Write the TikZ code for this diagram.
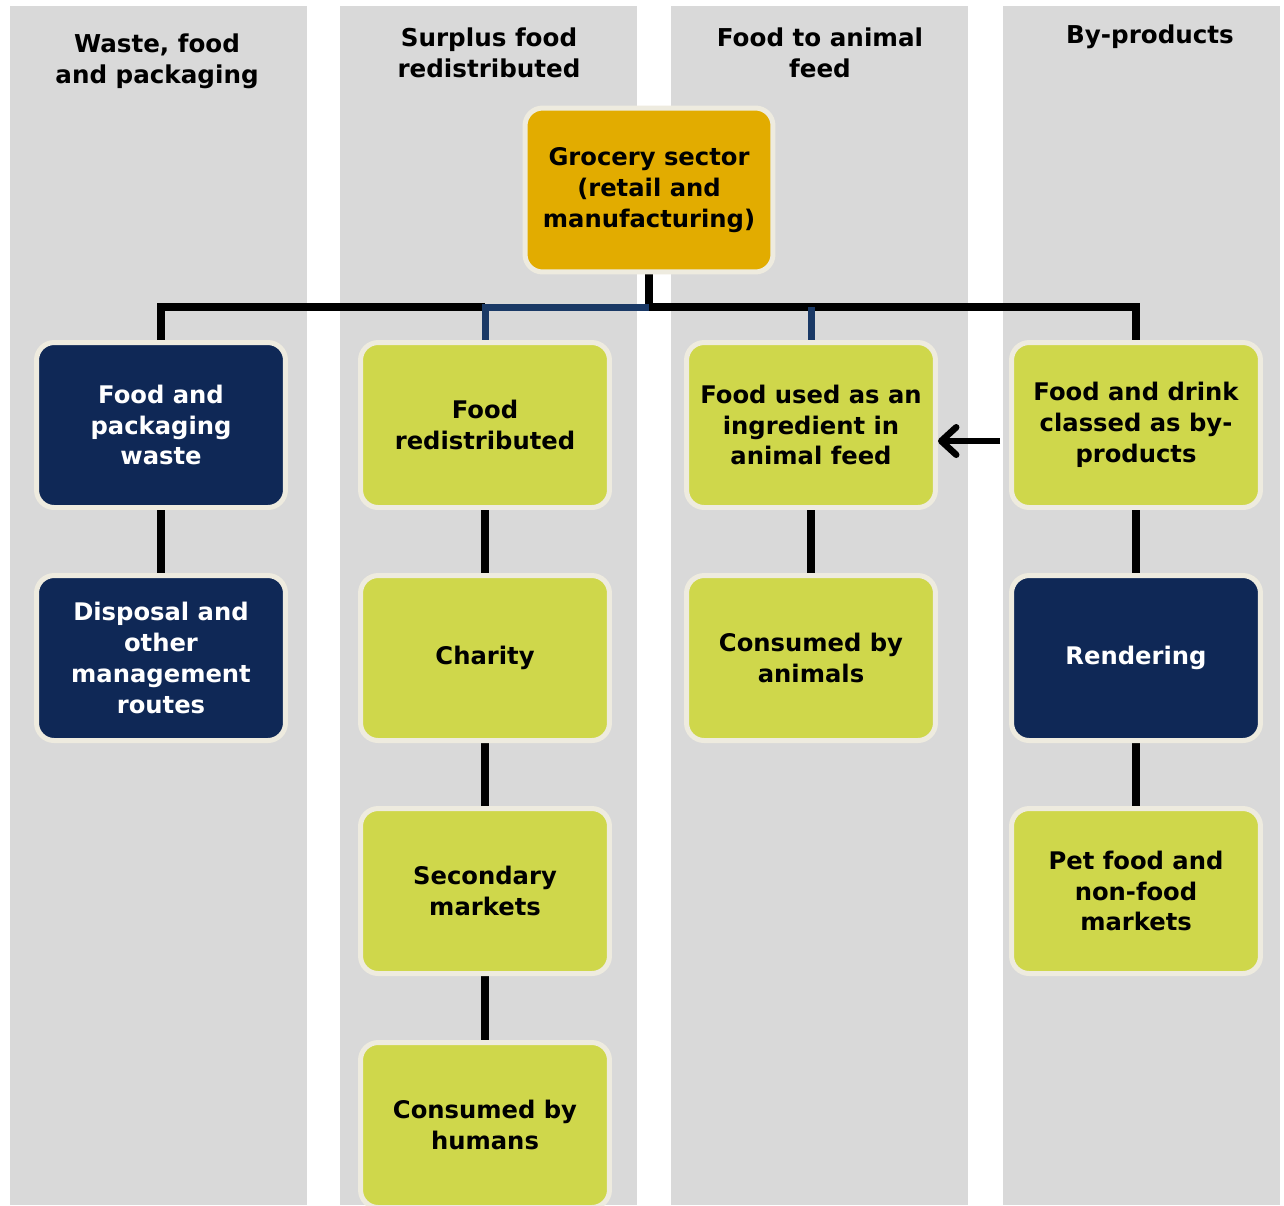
\documentclass[tikz,border=0pt]{standalone}
\usepackage{fontspec}
\setmainfont{DejaVu Sans}
\usetikzlibrary{arrows.meta,backgrounds}

\definecolor{bandgrey}{HTML}{D9D9D9}
\definecolor{navybox}{HTML}{0F2856}
\definecolor{navyline}{HTML}{1A3966}
\definecolor{limebox}{HTML}{CFD74B}
\definecolor{goldbox}{HTML}{E2AC00}
\definecolor{creamrim}{HTML}{EEEBDF}

\tikzset{
    box/.style={rectangle, rounded corners=10pt, draw=creamrim, line width=0.1cm,
        minimum width=4.98cm, minimum height=3.3cm, align=center,
        font=\fontsize{13.8}{17.5}\selectfont\bfseries},
    limebx/.style={box, fill=limebox, text=black},
    navybx/.style={box, fill=navybox, text=white},
    goldbx/.style={box, fill=goldbox, text=black, minimum width=4.96cm, minimum height=3.28cm},
    head/.style={align=center, font=\fontsize{14}{17.5}\selectfont\bfseries},
    link/.style={line width=0.15cm, black},
    navylink/.style={line width=0.14cm, navyline}
}

\begin{document}
\begin{tikzpicture}[x=0.02cm, y=-0.02cm]
            \clip (0,0) rectangle (1284,1205);

            % headers
            \node[head] (h1) at (157,61) {Waste, food\\and packaging};
            \node[head] (h2) at (489,53) {Surplus food\\redistributed};
            \node[head] (h3) at (820,53) {Food to animal\\feed};
            \node[head] (h4) at (1150,37) {By-products};

            % boxes
            \node[goldbx] (groc) at (649,190) {Grocery sector\\(retail and\\manufacturing)};

            \node[navybx] (fpw) at (161,425) {Food and\\packaging\\waste};
            \node[navybx] (disp) at (161,658) {Disposal and\\other\\management\\routes};

            \node[limebx] (fred) at (485,425) {Food\\redistributed};
            \node[limebx] (char) at (485,658) {Charity};
            \node[limebx] (sec) at (485,891) {Secondary\\markets};
            \node[limebx] (hum) at (485,1125) {Consumed by\\humans};

            \node[limebx] (feed) at (811,425) {Food used as an\\ingredient in\\animal feed};
            \node[limebx] (anim) at (811,658) {Consumed by\\animals};

            \node[limebx] (fdb) at (1136,425) {Food and drink\\classed as by-\\products};
            \node[navybx] (rend) at (1136,658) {Rendering};
            \node[limebx] (pet) at (1136,891) {Pet food and\\non-food\\markets};

            \begin{pgfonlayer}{background}
                \fill[white] (0,0) rectangle (1284,1205);
                \fill[bandgrey] (10,6) rectangle (307,1205);
                \fill[bandgrey] (340,6) rectangle (637,1205);
                \fill[bandgrey] (671,6) rectangle (968,1205);
                \fill[bandgrey] (1003,6) rectangle (1280,1205);

                \coordinate (hub) at (649,307);
                \draw[link] (groc.south) -- (hub);
                \draw[link] (fpw.north) |- (fred.north |- hub);
                \draw[navylink] (fred.north) |- (hub);
                \draw[link] (hub) -| (fdb.north);
                \draw[navylink] (feed.north) -- (feed.north |- hub);

                \draw[link] (fpw) -- (disp);
                \draw[link] (fred) -- (char);
                \draw[link] (char) -- (sec);
                \draw[link] (sec) -- (hum);
                \draw[link] (feed) -- (anim);
                \draw[link] (fdb) -- (rend);
                \draw[link] (rend) -- (pet);
            \end{pgfonlayer}

            \draw[black, line width=0.13cm, -{Straight Barb[length=0.3cm, width=0.55cm, line cap=round, line join=round]}]
                (fdb.west) ++(-9,16) coordinate (arrstart) -- (feed.east |- arrstart);
        \end{tikzpicture}
\end{document}
